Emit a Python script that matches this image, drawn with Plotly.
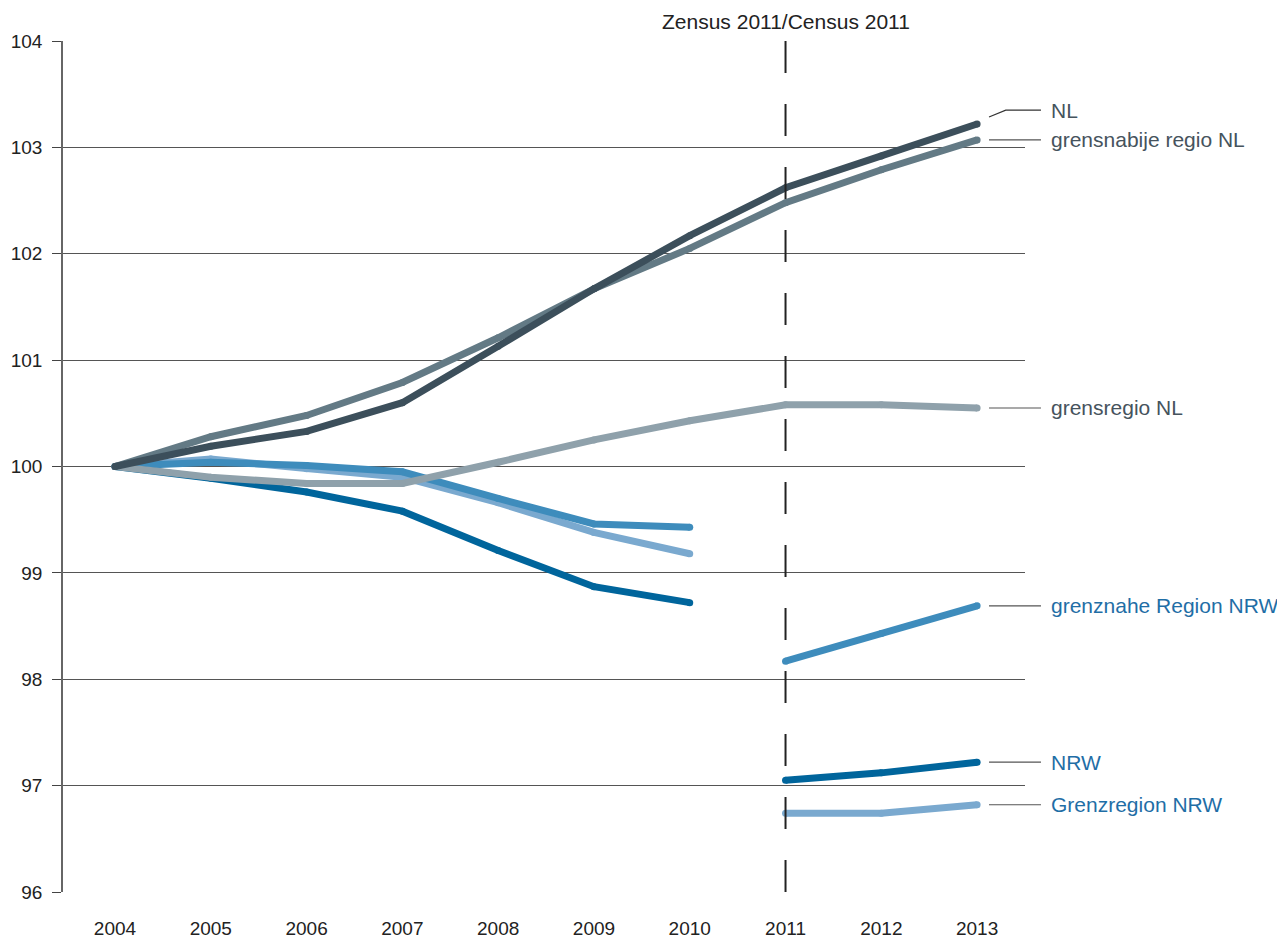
import plotly.graph_objects as go

years = [2004, 2005, 2006, 2007, 2008, 2009, 2010, 2011, 2012, 2013]

# index values (2004 = 100); NRW series break at the 2011 census
nl = [100, 100.19, 100.33, 100.60, 101.13, 101.67, 102.17, 102.62, 102.92, 103.22]
grensnabije_nl = [100, 100.28, 100.48, 100.79, 101.21, 101.67, 102.05, 102.48, 102.79, 103.07]
grensregio_nl = [100, 99.90, 99.84, 99.84, 100.04, 100.25, 100.43, 100.58, 100.58, 100.55]
grenznahe_nrw = [100, 100.04, 100.01, 99.95, 99.70, 99.46, 99.43, 98.17, 98.43, 98.69]
nrw = [100, 99.89, 99.76, 99.58, 99.21, 98.87, 98.72, 97.05, 97.12, 97.22]
grenzregion_nrw = [100, 100.07, 99.98, 99.90, 99.66, 99.38, 99.18, 96.74, 96.74, 96.82]

# name, values, line colour, label colour, broken at census
series = [
    ("Grenzregion NRW", grenzregion_nrw, "#7aa9cf", "#1f6ea6", True),
    ("grenznahe Region NRW", grenznahe_nrw, "#3e8cbc", "#1f6ea6", True),
    ("NRW", nrw, "#00659c", "#1f6ea6", True),
    ("grensregio NL", grensregio_nl, "#8fa1ab", "#46535d", False),
    ("grensnabije regio NL", grensnabije_nl, "#637a85", "#46535d", False),
    ("NL", nl, "#3c4f5b", "#46535d", False),
]

FONT = "Liberation Sans, Arial, sans-serif"
BREAK = 7  # first index after the census break

fig = go.Figure()

for name, vals, color, _, broken in series:
    parts = [(years[:BREAK], vals[:BREAK]), (years[BREAK:], vals[BREAK:])] if broken else [(years, vals)]
    for xs, ys in parts:
        fig.add_trace(go.Scatter(
            x=xs, y=ys, mode="lines+markers", name=name,
            line=dict(color=color, width=7),
            marker=dict(color=color, size=7),
            showlegend=False, hoverinfo="x+y+name",
        ))

# census break line
fig.add_shape(type="line", xref="x", yref="paper", x0=2011, x1=2011, y0=0, y1=1,
              line=dict(color="#222222", width=2, dash="32px,31px"), layer="above")
fig.add_annotation(x=2011, y=1, xref="x", yref="paper", yanchor="bottom", yshift=6,
                   text="Zensus 2011/Census 2011", showarrow=False,
                   font=dict(family=FONT, size=21, color="#222222"))

# end labels with leader lines
for name, vals, color, tcolor, _ in series:
    yv = vals[-1]
    if name == "NL":
        ylab = yv + 0.13
        fig.add_shape(type="path", xref="paper", yref="y",
                      path=f"M 0.9626 {yv + 0.065} L 0.98 {ylab} L 1.0166 {ylab}",
                      line=dict(color="#333333", width=1.2))
    else:
        ylab = yv
        fig.add_shape(type="line", xref="paper", yref="y", x0=0.9626, x1=1.0166,
                      y0=ylab, y1=ylab, line=dict(color="#555555", width=1.2))
    fig.add_annotation(x=1.025, y=ylab, xref="paper", yref="y", xanchor="left",
                       text=name, showarrow=False,
                       font=dict(family=FONT, size=21, color=tcolor))

fig.update_layout(
    width=1285, height=938,
    plot_bgcolor="white", paper_bgcolor="white",
    margin=dict(l=55, r=268, t=33, b=54),
    font=dict(family=FONT, size=19, color="#222222"),
    xaxis=dict(
        range=[2003.457, 2013.5], tickmode="array", tickvals=years,
        showgrid=False, zeroline=False, showline=False, ticks="",
        ticklabelstandoff=23, automargin=False,
        tickfont=dict(size=19, color="#222222"),
    ),
    yaxis=dict(
        range=[96, 104], dtick=1, showgrid=True, gridcolor="#555555", gridwidth=1.2,
        zeroline=False, showline=True, linecolor="#666666", linewidth=1.5,
        ticks="outside", ticklen=9, tickcolor="#444444", tickwidth=1.2,
        ticklabelstandoff=6, automargin=False,
        tickfont=dict(size=19, color="#222222"),
    ),
    hovermode="closest",
)

fig.write_html("out.html")
